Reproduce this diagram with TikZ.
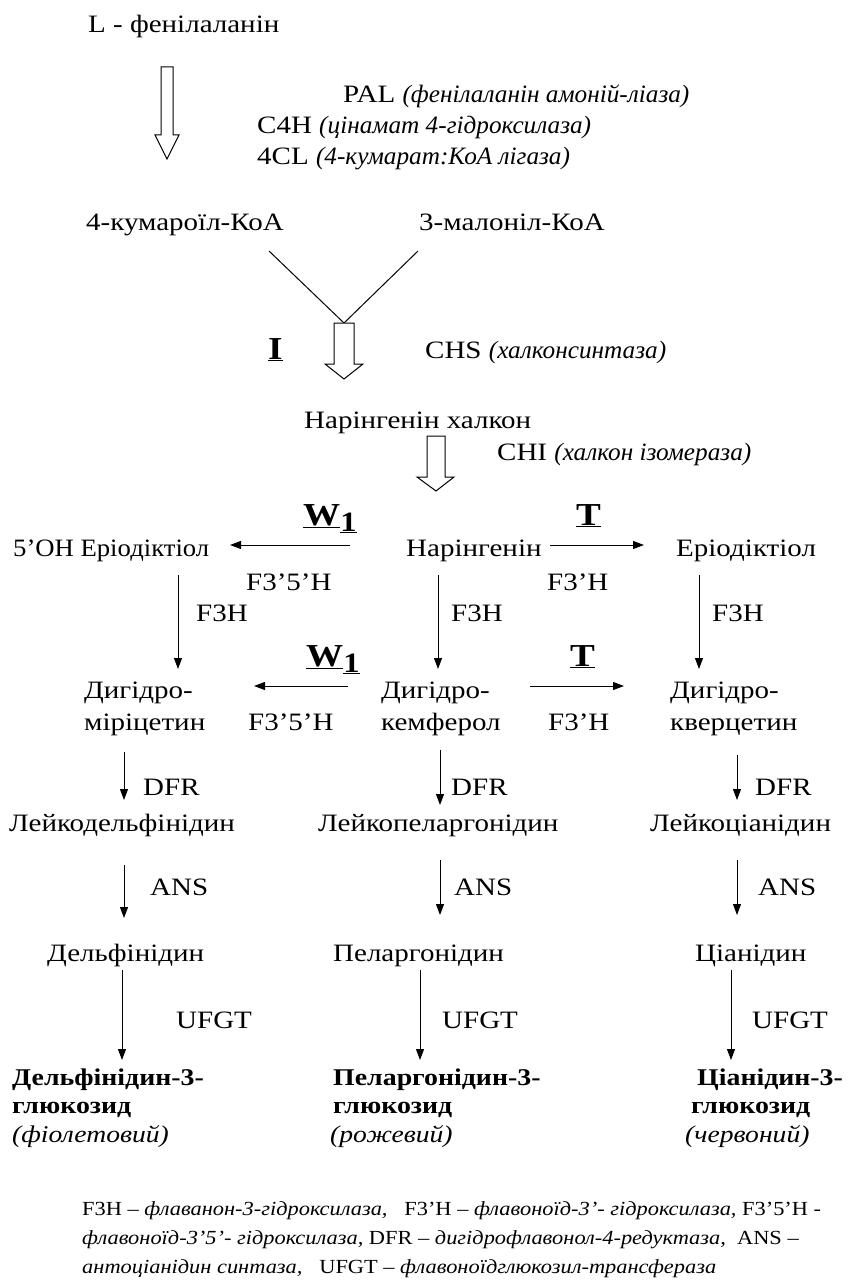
\documentclass[tikz,border=0pt]{standalone}
\usepackage{fontspec}
\setmainfont{Liberation Serif}[FakeStretch=1.16]
\newfontfamily\itf{Liberation Serif}[FakeStretch=1.01]
\newfontfamily\itp{Liberation Serif}[FakeStretch=1.15]
\newfontfamily\ffam{Liberation Serif}[FakeStretch=1.12]
\usetikzlibrary{arrows.meta}
\newcommand{\mainsz}{\fontsize{25}{29}\selectfont}
\newcommand{\prodsz}{\fontsize{24}{28}\selectfont}
\newcommand{\footsz}{\fontsize{20}{29}\selectfont\ffam}
\newcommand{\itx}[1]{{\itf\itshape #1}}
\newcommand{\itpx}[1]{{\itp\itshape #1}}
\newcommand{\Wone}{{\fontsize{32}{32}\selectfont\textbf{\underline{W}\raisebox{-6pt}{\fontsize{28}{28}\selectfont\underline{1}}}}}
\newcommand{\Tb}{{\fontsize{32}{32}\selectfont\textbf{\underline{T}}}}
\tikzset{
  txt/.style={inner sep=0pt, anchor=base west, font=\mainsz},
  ptxt/.style={inner sep=0pt, anchor=base west, font=\prodsz},
  ftxt/.style={inner sep=0pt, anchor=base west, font=\footsz},
  arr/.style={draw, line width=1pt, -{Triangle[width=8pt,length=11pt]}},
  hollow/.style={draw, line width=1pt, fill=white, line join=miter},
  vline/.style={draw, line width=1pt}
}
\begin{document}
\begin{tikzpicture}[x=1pt,y=-1pt]
\useasboundingbox[fill=white] (0,0) rectangle (847,1284);
% top
\node[txt] (phe) at (88,33) {L - фенілаланін};
\node[txt] (pal) at (343,103) {PAL \itx{(фенілаланін амоній-ліаза)}};
\node[txt] (c4h) at (257,134) {C4H \itx{(цінамат 4-гідроксилаза)}};
\node[txt] (cl4) at (257,165) {4CL \itx{(4-кумарат:КоА лігаза)}};
\draw[hollow] (161,67) -- (173,67) -- (173,135) -- (179,135) -- (167,159) -- (155,135) -- (161,135) -- cycle;
\node[txt] (kum) at (86,230) {4-кумароїл-КоА};
\node[txt] (mal) at (419,230) {3-малоніл-КоА};
\coordinate (kumend) at (269,251);
\coordinate (malend) at (418,251);
\coordinate (join) at (344,323);
\draw[vline] (kumend) -- (join) -- (malend);
\draw[hollow] (334,323) -- (354,323) -- (354,364) -- (363,364) -- (344,379) -- (325,364) -- (334,364) -- cycle;
\node[txt] (I) at (268,359) {{\fontsize{32}{32}\selectfont\textbf{\underline{I}}}};
\node[txt] (chs) at (425,358) {CHS \itx{(халконсинтаза)}};
\node[txt] (nch) at (304,428) {Нарінгенін халкон};
\draw[hollow] (427,436) -- (445,436) -- (445,477) -- (454,477) -- (436,491) -- (417,477) -- (427,477) -- cycle;
\node[txt] (chi) at (497,460) {CHI \itx{(халкон ізомераза)}};
% row 1
\node[txt] (w1a) at (303,525) {\Wone};
\node[txt] (ta) at (576,525) {\Tb};
\node[txt] (eri5) at (13,556) {\scalebox{0.92}[1]{5’OH Еріодіктіол}};
\node[txt] (nar) at (406,556) {Нарінгенін};
\node[txt] (eri) at (676,556) {Еріодіктіол};
\coordinate (a1s) at (350,545); \coordinate (a1e) at (230,545);
\coordinate (a2s) at (550,545); \coordinate (a2e) at (644,545);
\draw[arr] (a1s) -- (a1e);
\draw[arr] (a2s) -- (a2e);
\node[txt] (f35a) at (246,590) {F3’5’H};
\node[txt] (f3a) at (547,590) {F3’H};
\node[txt] (f3h1) at (196,621) {F3H};
\node[txt] (f3h2) at (451,621) {F3H};
\node[txt] (f3h3) at (712,621) {F3H};
\coordinate (v1s) at (178,575); \coordinate (v1e) at (178,669);
\coordinate (v2s) at (438,575); \coordinate (v2e) at (438,669);
\coordinate (v3s) at (699,575); \coordinate (v3e) at (699,669);
\draw[arr] (v1s) -- (v1e);
\draw[arr] (v2s) -- (v2e);
\draw[arr] (v3s) -- (v3e);
% row 2
\node[txt] (w1b) at (306,666) {\Wone};
\node[txt] (tb) at (570,666) {\Tb};
\coordinate (b1s) at (348,686); \coordinate (b1e) at (254,686);
\coordinate (b2s) at (530,686); \coordinate (b2e) at (624,686);
\draw[arr] (b1s) -- (b1e);
\draw[arr] (b2s) -- (b2e);
\node[txt] (dm1) at (84,698) {Дигідро-};
\node[txt] (dm2) at (84,730) {міріцетин};
\node[txt] (dk1) at (381,698) {Дигідро-};
\node[txt] (dk2) at (381,730) {кемферол};
\node[txt] (dq1) at (670,698) {Дигідро-};
\node[txt] (dq2) at (670,730) {кверцетин};
\node[txt] (f35b) at (248,730) {F3’5’H};
\node[txt] (f3b) at (548,730) {F3’H};
% DFR
\coordinate (d1s) at (124,752); \coordinate (d1e) at (124,800);
\coordinate (d2s) at (440,750); \coordinate (d2e) at (440,805);
\coordinate (d3s) at (737,755); \coordinate (d3e) at (737,800);
\draw[arr] (d1s) -- (d1e);
\draw[arr] (d2s) -- (d2e);
\draw[arr] (d3s) -- (d3e);
\node[txt] (dfr1) at (143,795) {DFR};
\node[txt] (dfr2) at (451,795) {DFR};
\node[txt] (dfr3) at (755,795) {DFR};
\node[txt] (ld) at (9,831) {Лейкодельфінідин};
\node[txt] (lp) at (318,831) {Лейкопеларгонідин};
\node[txt] (lc) at (650,831) {Лейкоціанідин};
% ANS
\coordinate (n1s) at (124,865); \coordinate (n1e) at (124,918);
\coordinate (n2s) at (440,860); \coordinate (n2e) at (440,915);
\coordinate (n3s) at (737,860); \coordinate (n3e) at (737,915);
\draw[arr] (n1s) -- (n1e);
\draw[arr] (n2s) -- (n2e);
\draw[arr] (n3s) -- (n3e);
\node[txt] (ans1) at (150,895) {ANS};
\node[txt] (ans2) at (454,895) {ANS};
\node[txt] (ans3) at (758,895) {ANS};
\node[txt] (del) at (47,961) {Дельфінідин};
\node[txt] (pel) at (333,961) {Пеларгонідин};
\node[txt] (cia) at (695,961) {Ціанідин};
% UFGT
\coordinate (u1s) at (122,970); \coordinate (u1e) at (122,1060);
\coordinate (u2s) at (420,970); \coordinate (u2e) at (420,1060);
\coordinate (u3s) at (731,970); \coordinate (u3e) at (731,1060);
\draw[arr] (u1s) -- (u1e);
\draw[arr] (u2s) -- (u2e);
\draw[arr] (u3s) -- (u3e);
\node[txt] (uf1) at (176,1028) {UFGT};
\node[txt] (uf2) at (442,1028) {UFGT};
\node[txt] (uf3) at (752,1028) {UFGT};
% products
\node[ptxt] (dg1) at (12,1085) {\textbf{Дельфінідин-3-}};
\node[ptxt] (dg2) at (12,1113) {\textbf{глюкозид}};
\node[ptxt] (dg3) at (12,1142) {\itpx{(фіолетовий)}};
\node[ptxt] (pg1) at (333,1085) {\textbf{Пеларгонідин-3-}};
\node[ptxt] (pg2) at (333,1113) {\textbf{глюкозид}};
\node[ptxt] (pg3) at (330,1142) {\itpx{(рожевий)}};
\node[ptxt] (cg1) at (697,1085) {\textbf{Ціанідин-3-}};
\node[ptxt] (cg2) at (691,1113) {\textbf{глюкозид}};
\node[ptxt] (cg3) at (685,1142) {\itpx{(червоний)}};
% footer
\node[ftxt] (ft1) at (82,1215) {F3H – \textit{флаванон-3-гідроксилаза,}\ \ \ F3’H – \textit{флавоноїд-3’- гідроксилаза,} F3’5’H -};
\node[ftxt] (ft2) at (82,1244) {\textit{флавоноїд-3’5’- гідроксилаза,} DFR – \textit{дигідрофлавонол-4-редуктаза,}\ \ ANS –};
\node[ftxt] (ft3) at (82,1273) {\textit{антоціанідин синтаза,}\ \ \ UFGT – \textit{флавоноїдглюкозил-трансфераза}};
\end{tikzpicture}
\end{document}
